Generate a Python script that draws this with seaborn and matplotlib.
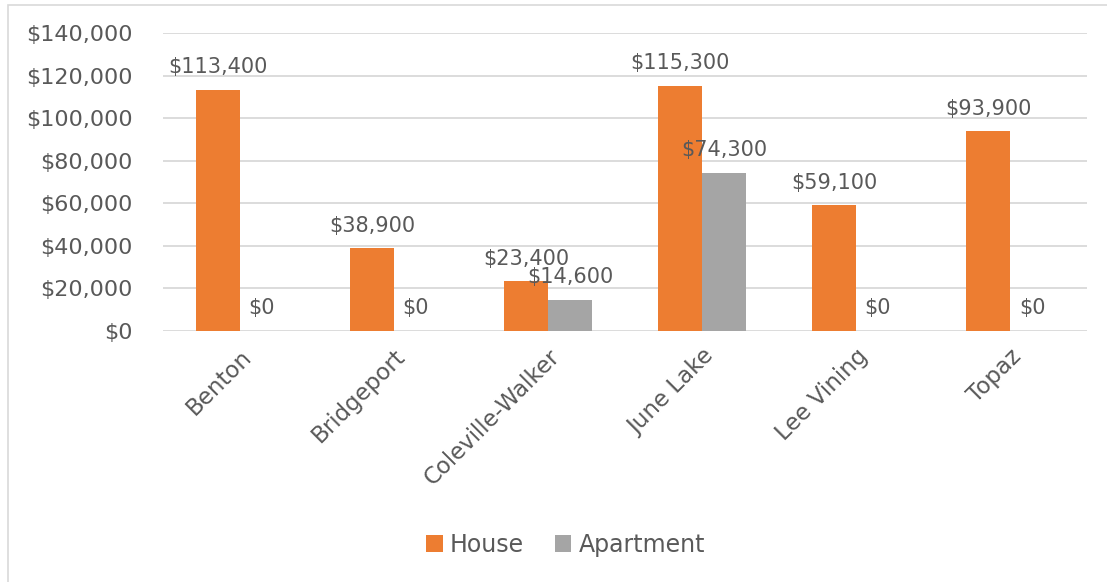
import matplotlib
matplotlib.use("Agg")
import matplotlib.pyplot as plt
import pandas as pd
import seaborn as sns
from matplotlib.patches import Rectangle

# values
areas = ['Benton', 'Bridgeport', 'Coleville-Walker', 'June Lake', 'Lee Vining', 'Topaz']
house = [113400, 38900, 23400, 115300, 59100, 93900]
apartment = [0, 0, 14600, 74300, 0, 0]
yticks = [0, 20000, 40000, 60000, 80000, 100000, 120000, 140000]

txt = '#595959'
grid = '#D9D9D9'


def money(v):
	return '${:,.0f}'.format(v)


def main():
	df = pd.DataFrame({
		'area': areas * 2,
		'value': house + apartment,
		'type': ['House'] * len(areas) + ['Apartment'] * len(areas),
	})

	sns.set_style('white')
	plt.rcParams['font.family'] = ['DejaVu Sans']

	fig = plt.figure(figsize=(11.07, 5.82), dpi=100)
	ax = fig.add_axes([0.1472, 0.4313, 0.8348, 0.512])

	sns.barplot(data=df, x='area', y='value', hue='type', order=areas,
				hue_order=['House', 'Apartment'],
				palette={'House': '#ED7D31', 'Apartment': '#A5A5A5'},
				width=0.57, saturation=1, errorbar=None, linewidth=0, ax=ax)

	for cont, vals in zip(ax.containers, [house, apartment]):
		ax.bar_label(cont, labels=[money(v) for v in vals], padding=9,
					 fontsize=15, color=txt)

	ax.set_ylim(0, 140000)
	ax.set_yticks(yticks)
	ax.set_yticklabels([money(v) for v in yticks])
	ax.set_xlim(-0.5, len(areas) - 0.5)
	ax.yaxis.grid(True, color=grid, linewidth=1.3)
	ax.set_axisbelow(True)
	for s in ax.spines.values():
		s.set_visible(False)
	ax.tick_params(axis='y', length=0, pad=22, labelsize=16, labelcolor=txt)
	ax.tick_params(axis='x', length=0, pad=10, labelsize=16.5, labelcolor=txt)
	plt.setp(ax.get_xticklabels(), rotation=45, ha='right', rotation_mode='anchor')
	ax.set_xlabel('')
	ax.set_ylabel('')

	ax.legend_.remove()
	handles, labels = ax.get_legend_handles_labels()
	fig.legend(handles, labels, loc='center', bbox_to_anchor=(0.511, 0.064),
			   ncol=2, frameon=False, fontsize=17, handlelength=0.7,
			   handleheight=0.7, handletextpad=0.3, columnspacing=1.3,
			   labelcolor=txt)

	# chart area border
	fig.patches.append(Rectangle((8 / 1107, -0.01), 1.1, 1 - 5 / 582 + 0.01,
								 transform=fig.transFigure, fill=False,
								 edgecolor=grid, linewidth=1.2))

	fig.savefig('out.png', dpi=100)


if __name__ == '__main__':
	main()
